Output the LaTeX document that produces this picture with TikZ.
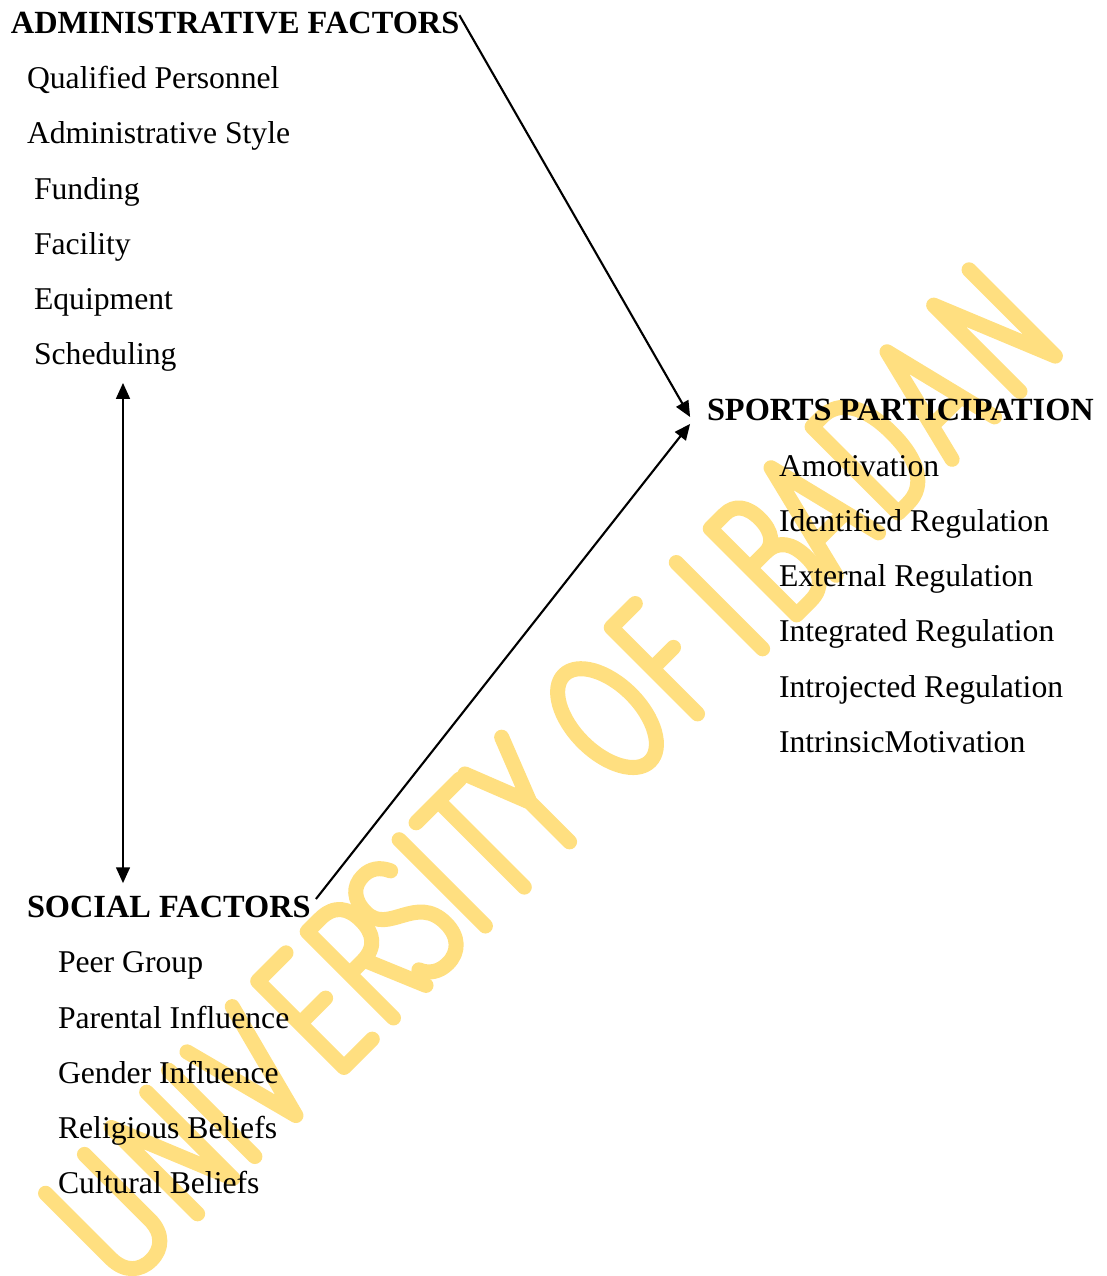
\documentclass[tikz,border=0pt]{standalone}
\usepackage{fontspec}
\setmainfont{Liberation Serif}
\usetikzlibrary{arrows.meta}
\definecolor{wmyellow}{RGB}{255,223,128}
\begin{document}
\begin{tikzpicture}[x=0.378788pt, y=-0.378788pt,
  >={Triangle[length=6pt,width=5.2pt]},
  every node/.style={inner sep=0pt, outer sep=0pt, anchor=base west,
                     font=\fontsize{12}{14}\selectfont},
  hd/.style={font=\fontsize{12.25}{14}\selectfont\bfseries},
  conn/.style={line width=0.8pt, ->},
  wm/.style={draw=wmyellow, line width=5.7pt, line cap=round, line join=round}]
\useasboundingbox (0,0) rectangle (1106,1276);

% watermark lettering, drawn as single strokes along a 45 degree baseline
\begin{scope}[shift={(700,722)}, x={(0.26784pt,0.26784pt)}, y={(-0.26784pt,0.26784pt)}, shift={(0,7.5)}]
  % U
  \draw[wm, shift={(-796,0)}] (0,122) -- (0,30) .. controls (0,10) and (12,0) .. (27.5,0)
        .. controls (43,0) and (55,10) .. (55,30) -- (55,122);
  % N
  \draw[wm, shift={(-703,0)}] (0,0) -- (0,122) -- (50,0) -- (50,122);
  % I
  \draw[wm, shift={(-622,0)}] (0,0) -- (0,122);
  % V
  \draw[wm, shift={(-596,0)}] (0,122) -- (32,0) -- (64,122);
  % E
  \draw[wm, shift={(-496,0)}] (40,122) -- (0,122) -- (0,0) -- (40,0) (0,62) -- (36,62);
  % R
  \draw[wm, shift={(-426,0)}] (0,0) -- (0,122) -- (18,122) .. controls (38,122) and (46,110) .. (46,92)
        .. controls (46,74) and (38,62) .. (18,62) -- (0,62) (20,62) -- (46,0);
  % S
  \draw[wm, shift={(-374,0)}] (50,106) .. controls (45,117) and (37,122) .. (27,122)
        .. controls (12,122) and (3,112) .. (3,94) .. controls (3,62) and (52,72) .. (52,30)
        .. controls (52,11) and (41,0) .. (25,0) .. controls (13,0) and (4,6) .. (0,16);
  % I
  \draw[wm, shift={(-296,0)}] (0,0) -- (0,122);
  % T
  \draw[wm, shift={(-272,0)}] (0,122) -- (62,122) (31,122) -- (31,0);
  % Y
  \draw[wm, shift={(-203,0)}] (0,122) -- (26,56) -- (52,122) (26,56) -- (26,0);
  % O
  \draw[wm, shift={(-97,0)}] (34,122) .. controls (52.8,122) and (68,94.7) .. (68,61)
        .. controls (68,27.3) and (52.8,0) .. (34,0) .. controls (15.2,0) and (0,27.3) .. (0,61)
        .. controls (0,94.7) and (15.2,122) .. (34,122) -- cycle;
  % F
  \draw[wm, shift={(4,0)}] (34,122) -- (0,122) -- (0,0) (0,64) -- (30,64);
  % I
  \draw[wm, shift={(96,0)}] (0,0) -- (0,122);
  % B
  \draw[wm, shift={(144,0)}] (0,66) -- (22,66) .. controls (40,66) and (48,54) .. (48,33)
        .. controls (48,12) and (38,0) .. (20,0) -- (0,0) -- (0,122) -- (20,122)
        .. controls (34,122) and (42,112) .. (42,94) .. controls (42,76) and (34,66) .. (22,66);
  % A
  \draw[wm, shift={(200,0)}] (0,0) -- (30,122) -- (60,0) (9.5,38) -- (50.5,38);
  % D
  \draw[wm, shift={(288,0)}] (0,0) -- (0,122) -- (14,122) .. controls (38,122) and (52,100) .. (52,61)
        .. controls (52,22) and (38,0) .. (14,0) -- cycle;
  % A
  \draw[wm, shift={(364,0)}] (0,0) -- (30,122) -- (60,0) (9.5,38) -- (50.5,38);
  % N
  \draw[wm, shift={(460,0)}] (0,0) -- (0,122) -- (50,0) -- (50,122);
\end{scope}

% administrative factors
\node[hd] (adm) at (11,34) {ADMINISTRATIVE FACTORS};
\node (a1) at (27,89)  {Qualified Personnel};
\node (a2) at (27,144) {Administrative Style};
\node (a3) at (34,200) {Funding};
\node (a4) at (34,255) {Facility};
\node (a5) at (34,310) {Equipment};
\node (a6) at (34,365) {Scheduling};

% sports participation
\node[hd] (sp) at (707,421) {SPORTS PARTICIPATION};
\node (s1) at (779,476) {Amotivation};
\node (s2) at (779,531) {Identified Regulation};
\node (s3) at (779,586) {External Regulation};
\node (s4) at (779,641) {Integrated Regulation};
\node (s5) at (779,697) {Introjected Regulation};
\node (s6) at (779,752) {IntrinsicMotivation};

% social factors
\node[hd] (soc) at (27,917) {SOCIAL FACTORS};
\node (f1) at (58,972)  {Peer Group};
\node (f2) at (58,1028) {Parental Influence};
\node (f3) at (58,1083) {Gender Influence};
\node (f4) at (58,1138) {Religious Beliefs};
\node (f5) at (58,1193) {Cultural Beliefs};

% connectors
\draw[conn] ([yshift=-1pt]adm.north east) -- ([xshift=-6.4pt,yshift=1.5pt]sp.base west);
\draw[conn] ([xshift=2pt,yshift=-1.3pt]soc.north east) -- ([xshift=-6.4pt,yshift=-1.1pt]sp.base west);
\coordinate (vx) at (123,0);
\draw[line width=0.8pt, <->, shorten <=4.2pt, shorten >=4.7pt]
  (a6.south -| vx) -- (soc.north -| vx);
\end{tikzpicture}
\end{document}
